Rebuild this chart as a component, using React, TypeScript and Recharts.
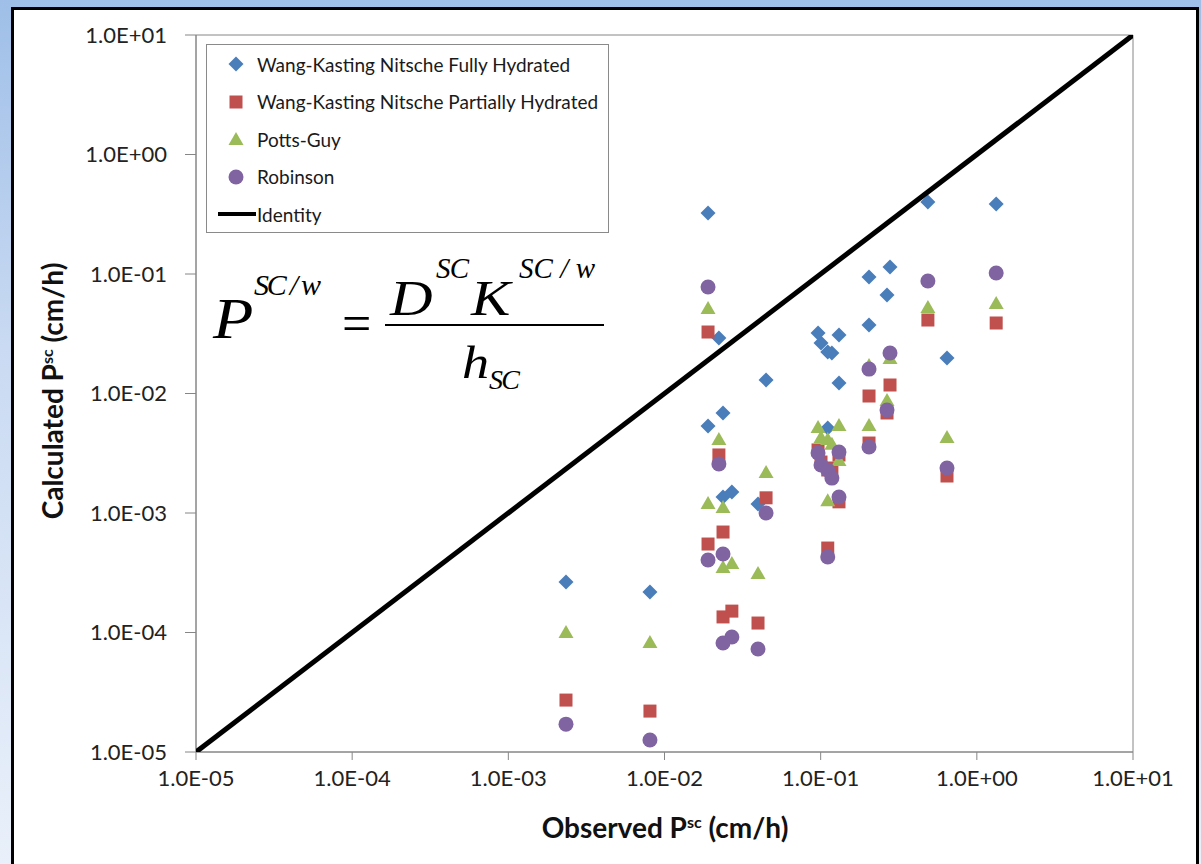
import React from "react";
import { ScatterChart, Scatter, XAxis, YAxis, ReferenceArea } from "recharts";

// observed permeability (x) and the four model predictions (y), cm/h
const observed = [0.00234, 0.00807, 0.019, 0.019, 0.0223, 0.0237, 0.0237, 0.027, 0.0397, 0.0447, 0.0962, 0.1005, 0.111, 0.118, 0.131, 0.131, 0.111, 0.204, 0.204, 0.266, 0.278, 0.486, 0.644, 1.33];
const wknFully = [2.65e-4, 2.18e-4, 0.324, 5.35e-3, 0.0291, 6.87e-3, 1.36e-3, 1.5e-3, 1.19e-3, 0.013, 0.0321, 0.0265, 0.0222, 0.0218, 0.0309, 0.01225, 5.14e-3, 0.0944, 0.0374, 0.0667, 0.1145, 0.401, 0.0198, 0.385];
const wknPartial = [2.72e-5, 2.2e-5, 0.0327, 5.5e-4, 3.06e-3, 6.93e-4, 1.35e-4, 1.51e-4, 1.2e-4, 1.34e-3, 3.37e-3, 2.67e-3, 2.29e-3, 2.38e-3, 3.06e-3, 1.24e-3, 5.09e-4, 9.53e-3, 3.85e-3, 6.87e-3, 0.01178, 0.0412, 2.04e-3, 0.0389];
const pottsGuy = [1.01e-4, 8.33e-5, 0.0519, 1.21e-3, 4.16e-3, 1.12e-3, 3.53e-4, 3.82e-4, 3.15e-4, 2.2e-3, 5.25e-3, 4.33e-3, 4.16e-3, 3.8e-3, 5.45e-3, 2.78e-3, 1.28e-3, 0.0173, 5.45e-3, 8.83e-3, 0.0198, 0.053, 4.33e-3, 0.0572];
const robinson = [1.71e-5, 1.26e-5, 0.0779, 4.04e-4, 2.57e-3, 4.54e-4, 8.17e-5, 9.17e-5, 7.28e-5, 1.0e-3, 3.18e-3, 2.52e-3, 2.29e-3, 1.96e-3, 3.24e-3, 1.36e-3, 4.28e-4, 0.016, 3.57e-3, 7.28e-3, 0.0218, 0.0873, 2.38e-3, 0.102];
const identity = [1e-5, 10];
const decadeTicks = [1e-5, 1e-4, 1e-3, 1e-2, 1e-1, 1, 10];

const FONT = "Lato, 'Open Sans', sans-serif";
const AXIS_GREY = "#868686";

const pairs = (ys: number[]) => observed.map((x, i) => ({ x, y: ys[i] }));

function sci(v: number) {
  const e = Math.round(Math.log10(v));
  return "1.0E" + (e < 0 ? "-" : "+") + String(Math.abs(e)).padStart(2, "0");
}

const Diamond = ({ cx, cy, fill }: any) => (
  <path d={`M${cx},${cy - 7.5}L${cx + 7.5},${cy}L${cx},${cy + 7.5}L${cx - 7.5},${cy}Z`} fill={fill} />
);
const Square = ({ cx, cy, fill }: any) => <rect x={cx - 6.5} y={cy - 6.5} width={13} height={13} fill={fill} />;
const Triangle = ({ cx, cy, fill }: any) => (
  <path d={`M${cx},${cy - 7}L${cx + 7.5},${cy + 6}L${cx - 7.5},${cy + 6}Z`} fill={fill} />
);
const Circle = ({ cx, cy, fill }: any) => <circle cx={cx} cy={cy} r={7.5} fill={fill} />;
const NoMark = () => <g />;

const series = [
  { name: "Wang-Kasting Nitsche Fully Hydrated", color: "#4A7EBB", shape: Diamond, values: wknFully },
  { name: "Wang-Kasting Nitsche Partially Hydrated", color: "#C0504D", shape: Square, values: wknPartial },
  { name: "Potts-Guy", color: "#9BBB59", shape: Triangle, values: pottsGuy },
  { name: "Robinson", color: "#8064A2", shape: Circle, values: robinson },
];

function LegendBox() {
  return (
    <div
      style={{
        position: "absolute", left: 206, top: 44, width: 403, height: 189, boxSizing: "border-box",
        border: "1px solid #8a8a8a", background: "#fff", fontFamily: FONT, fontSize: 19, color: "#1a1a1a",
      }}
    >
      {series.map((s, i) => (
        <div key={s.name} style={{ position: "absolute", left: 0, top: 19 - 10 + i * 37.5, height: 20, display: "flex", alignItems: "center" }}>
          <svg width={50} height={20}>
            <s.shape cx={29} cy={10} fill={s.color} />
          </svg>
          <span>{s.name}</span>
        </div>
      ))}
      <div style={{ position: "absolute", left: 0, top: 169 - 10, height: 20, display: "flex", alignItems: "center" }}>
        <svg width={50} height={20}>
          <line x1={11} x2={49} y1={10} y2={10} stroke="#000" strokeWidth={4} />
        </svg>
        <span>Identity</span>
      </div>
    </div>
  );
}

// formula annotation placed in the upper-left empty part of the plot
function Equation() {
  const serif = "'Liberation Serif', 'Times New Roman', serif";
  const letters = [
    { t: "P", x: 213, y: 338, s: 56 },
    { t: "D", x: 390, y: 315, s: 50 },
    { t: "K", x: 471, y: 315, s: 50 },
    { t: "h", x: 462, y: 378, s: 46 },
  ];
  const scripts = [
    { t: "SC / w", x: 254, y: 295, s: 30, w: 67 },
    { t: "SC", x: 436, y: 278, s: 29, w: 33 },
    { t: "SC / w", x: 519, y: 278, s: 29, w: 76 },
    { t: "SC", x: 489, y: 389, s: 28, w: 31 },
  ];
  return (
    <svg style={{ position: "absolute", left: 0, top: 0 }} width={1201} height={864} pointerEvents="none">
      <g fontFamily={serif} fontStyle="italic" fill="#000">
        {letters.map((p, i) => (
          <text key={"l" + i} transform={`translate(${p.x} ${p.y}) scale(1.18 1)`} fontSize={p.s}>
            {p.t}
          </text>
        ))}
        {scripts.map((p, i) => (
          <text key={"s" + i} x={p.x} y={p.y} fontSize={p.s} textLength={p.w} lengthAdjust="spacing">
            {p.t}
          </text>
        ))}
      </g>
      <text x={342} y={341} fontSize={52} fontFamily={serif}>=</text>
      <line x1={385} x2={604} y1={325} y2={325} stroke="#000" strokeWidth={2} />
    </svg>
  );
}

export default function App() {
  const tickStyle = { fontSize: 22, fill: "#222", fontFamily: FONT };
  const titleStyle: React.CSSProperties = { fontFamily: FONT, fontWeight: 700, fontSize: 28, color: "#111", textAlign: "center" };
  return (
    <div
      style={{
        position: "absolute", left: 0, top: 0, width: 1201, height: 864, overflow: "hidden",
        background: "linear-gradient(to bottom, #9fbfe8 0%, #c9daf2 40%, #e9f0fa 100%)",
      }}
    >
      <div
        style={{
          position: "absolute", left: 11, top: 7, width: 1188, height: 900, boxSizing: "border-box",
          border: "3px solid #000", background: "#fff",
        }}
      />
      <div style={{ position: "absolute", left: 0, top: 0 }}>
        <ScatterChart width={1201} height={864} margin={{ top: 35, right: 68, bottom: 72, left: 86 }}>
          <XAxis
            type="number"
            dataKey="x"
            scale="log"
            domain={[1e-5, 10]}
            ticks={decadeTicks}
            allowDataOverflow
            tickFormatter={sci}
            height={40}
            tick={tickStyle}
            tickSize={8}
            tickMargin={10}
            axisLine={{ stroke: AXIS_GREY }}
            tickLine={{ stroke: AXIS_GREY }}
          />
          <YAxis
            type="number"
            dataKey="y"
            scale="log"
            domain={[1e-5, 10]}
            ticks={decadeTicks}
            allowDataOverflow
            tickFormatter={sci}
            width={110}
            tick={tickStyle}
            tickSize={11}
            tickMargin={18}
            axisLine={{ stroke: AXIS_GREY }}
            tickLine={{ stroke: AXIS_GREY }}
          />
          <ReferenceArea x1={1e-5} x2={10} y1={1e-5} y2={10} fill="none" stroke={AXIS_GREY} strokeWidth={1} />
          {series.map((s) => (
            <Scatter
              key={s.name}
              name={s.name}
              data={pairs(s.values)}
              fill={s.color}
              shape={s.shape}
              isAnimationActive={false}
            />
          ))}
          <Scatter
            name="Identity"
            data={identity.map((v) => ({ x: v, y: v }))}
            line={{ stroke: "#000", strokeWidth: 5 }}
            shape={NoMark}
            isAnimationActive={false}
          />
        </ScatterChart>
      </div>
      <LegendBox />
      <Equation />
      <div style={{ ...titleStyle, position: "absolute", left: 465, width: 400, top: 810 }}>
        Observed P<sup style={{ fontSize: 16 }}>sc</sup> (cm/h)
      </div>
      <div
        style={{
          ...titleStyle, position: "absolute", left: 52 - 200, top: 393 - 19, width: 400,
          transform: "rotate(-90deg)",
        }}
      >
        Calculated P<sup style={{ fontSize: 16 }}>sc</sup> (cm/h)
      </div>
    </div>
  );
}
